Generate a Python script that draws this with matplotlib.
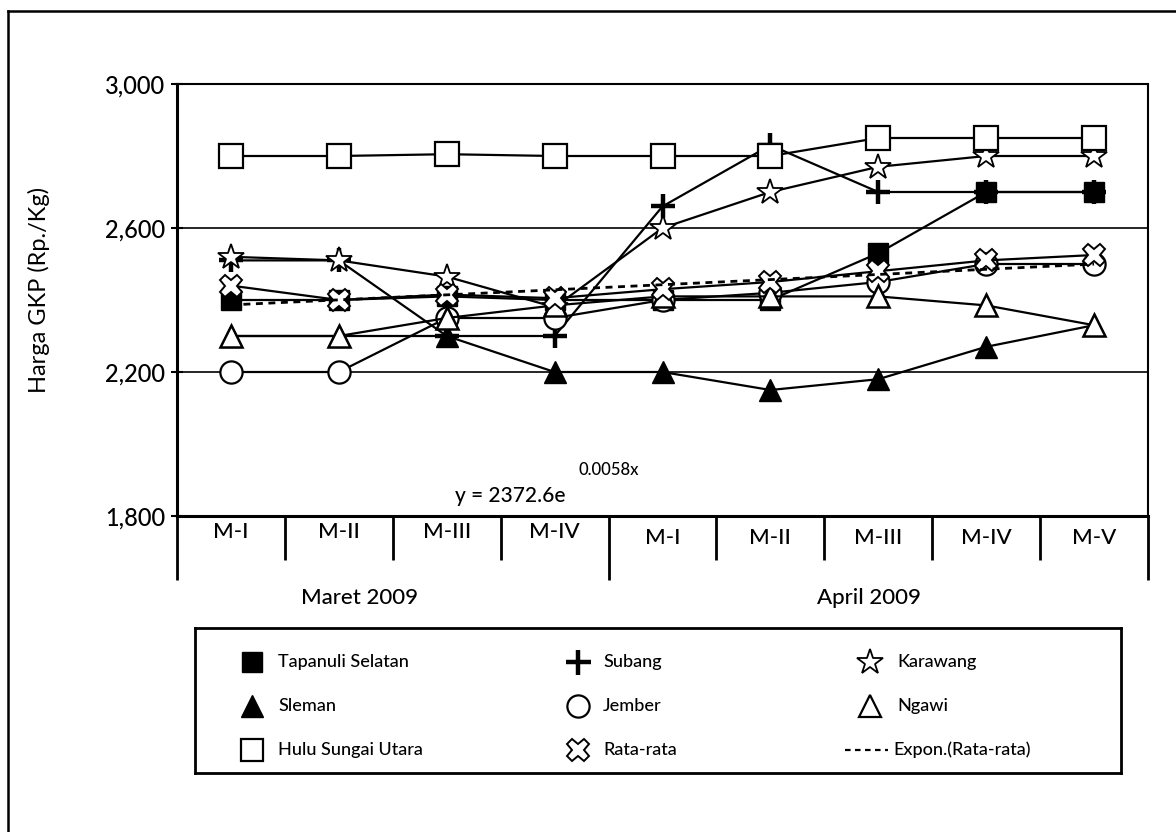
import numpy as np
import matplotlib
matplotlib.use("Agg")
import matplotlib.pyplot as plt
from matplotlib.lines import Line2D
from matplotlib.ticker import StrMethodFormatter

plt.rcParams['font.family'] = ['Lato', 'DejaVu Sans']
plt.rcParams['font.weight'] = 'medium'

# weekly grain price (GKP) per district, Maret-April 2009
weeks = ['M-I', 'M-II', 'M-III', 'M-IV', 'M-I', 'M-II', 'M-III', 'M-IV', 'M-V']
months = ['Maret 2009', 'April 2009']
n_maret = 4

tapanuli = [2400, 2400, 2410, 2400, 2400, 2400, 2530, 2700, 2700]
subang = [2510, 2510, 2300, 2300, 2660, 2830, 2700, 2700, 2700]
karawang = [2520, 2510, 2465, 2380, 2600, 2700, 2770, 2800, 2800]
sleman = [2300, 2300, 2300, 2200, 2200, 2150, 2180, 2270, 2330]
jember = [2200, 2200, 2350, 2350, 2400, 2420, 2450, 2500, 2500]
ngawi = [2300, 2300, 2350, 2385, 2410, 2410, 2410, 2385, 2330]
hulu_sungai = [2800, 2800, 2805, 2800, 2800, 2800, 2850, 2850, 2850]
rata_rata = [2440, 2400, 2415, 2405, 2430, 2450, 2480, 2510, 2525]

# exponential trend of the average: y = a * exp(b * x), x = 1..9
trend_a = 2372.6
trend_b = 0.0058

W, H = 1176, 832
fig = plt.figure(figsize=(W / 100, H / 100), dpi=100)

# page frame (only left and top edges fall inside the image)
fig.add_artist(Line2D([8 / W, 8 / W], [0, 1 - 11 / H], color='black', lw=1.8))
fig.add_artist(Line2D([8 / W, 1], [1 - 11 / H, 1 - 11 / H], color='black', lw=1.8))

ax_l, ax_r, ax_t, ax_b = 177, 1148, 84, 516
ax = fig.add_axes([ax_l / W, 1 - ax_b / H, (ax_r - ax_l) / W, (ax_b - ax_t) / H])
ax_h = ax_b - ax_t

x = np.arange(len(weeks))
series = [
    (tapanuli, 's', 'black', 'black', 14, 1.0),
    (subang, 'P', 'white', 'black', 0, 0),
    (karawang, '*', 'white', 'black', 19, 1.3),
    (sleman, '^', 'black', 'black', 16, 1.0),
    (jember, 'o', 'white', 'black', 16, 1.6),
    (ngawi, '^', 'white', 'black', 16, 1.8),
    (hulu_sungai, 's', 'white', 'black', 17, 1.6),
    (rata_rata, 'X', 'white', 'black', 16, 1.4),
]
for vals, mk, fc, ec, ms, mew in series:
    if mk == 'P':
        ax.plot(x, vals, color='black', lw=1.6, marker='+', ms=17, mew=3.2, zorder=3)
    else:
        ax.plot(x, vals, color='black', lw=1.6, marker=mk, ms=ms,
                mfc=fc, mec=ec, mew=mew, zorder=3)

xt = np.linspace(1, len(weeks), 200)
ax.plot(xt - 1, trend_a * np.exp(trend_b * xt), color='black', lw=2, ls=(0, (2.5, 2)), zorder=4)

ax.set_xlim(-0.5, len(weeks) - 0.5)
ax.set_ylim(1800, 3000)
ax.set_yticks([1800, 2200, 2600, 3000])
ax.yaxis.set_major_formatter(StrMethodFormatter('{x:,.0f}'))
ax.tick_params(axis='y', direction='inout', length=9, width=1.5, labelsize=17, pad=4)
ax.set_xticks([])
ax.grid(axis='y', color='black', lw=1.2)
ax.set_axisbelow(True)
for s in ax.spines.values():
    s.set_linewidth(1.5)
ax.spines['left'].set_linewidth(2.2)
ax.spines['bottom'].set_linewidth(2.2)

ax.set_ylabel('Harga GKP (Rp./Kg)', fontsize=17)
ax.yaxis.set_label_coords(-127 / (ax_r - ax_l), (ax_b - 290) / ax_h)

# category separators below the axis
bounds = np.arange(len(weeks) + 1) - 0.5
for b in bounds:
    long = b in (bounds[0], bounds[n_maret], bounds[-1])
    depth = (64 if long else 44) / ax_h
    ax.plot([b, b], [0, -depth], transform=ax.get_xaxis_transform(),
            color='black', lw=2, clip_on=False, solid_capstyle='butt')

for i, w in enumerate(weeks):
    off = 16 if i < n_maret else 22
    ax.annotate(w, xy=(i, 0), xycoords=('data', 'axes fraction'),
                xytext=(0, -off / 1.389), textcoords='offset points',
                ha='center', va='center', fontsize=16)

for m, mx in zip(months, [1.19, 5.91]):
    ax.annotate(m, xy=(mx, 0), xycoords=('data', 'axes fraction'),
                xytext=(0, -82 / 1.389), textcoords='offset points',
                ha='center', va='center', fontsize=16)

# trend equation
ax.text(2.08, 1855, 'y = %.1fe' % trend_a, fontsize=15, ha='left', va='center')
ax.text(3.22, 1928, '%.4fx' % trend_b, fontsize=12, ha='left', va='center')

# legend box
lg_l, lg_r, lg_t, lg_b = 195, 1121, 628, 773
lax = fig.add_axes([lg_l / W, 1 - lg_b / H, (lg_r - lg_l) / W, (lg_b - lg_t) / H])
lax.set_xlim(lg_l, lg_r)
lax.set_ylim(lg_b, lg_t)
lax.set_xticks([])
lax.set_yticks([])
for s in lax.spines.values():
    s.set_linewidth(2)

rows = [662, 706, 750]
cols = [(252, 278), (578, 603), (870, 897)]
entries = [
    ('Tapanuli Selatan', dict(marker='s', ms=14, mfc='black', mec='black')),
    ('Subang', dict(marker='+', ms=18, mew=3.2, color='black')),
    ('Karawang', dict(marker='*', ms=19, mfc='white', mec='black', mew=1.3)),
    ('Sleman', dict(marker='^', ms=16, mfc='black', mec='black')),
    ('Jember', dict(marker='o', ms=16, mfc='white', mec='black', mew=1.6)),
    ('Ngawi', dict(marker='^', ms=16, mfc='white', mec='black', mew=1.6)),
    ('Hulu Sungai Utara', dict(marker='s', ms=16, mfc='white', mec='black', mew=1.6)),
    ('Rata-rata', dict(marker='X', ms=16, mfc='white', mec='black', mew=1.4)),
    ('Expon.(Rata-rata)', None),
]
for k, (label, style) in enumerate(entries):
    r, c = divmod(k, 3)
    mx, tx = cols[c]
    yy = rows[r]
    if style is None:
        lax.plot([845, 888], [yy, yy], color='black', lw=1.6, ls=(0, (2.5, 2)))
        tx = 893
    else:
        lax.plot([mx], [yy], ls='none', **style)
    lax.text(tx, yy, label, fontsize=13, ha='left', va='center')

fig.savefig('out.png', dpi=100)
